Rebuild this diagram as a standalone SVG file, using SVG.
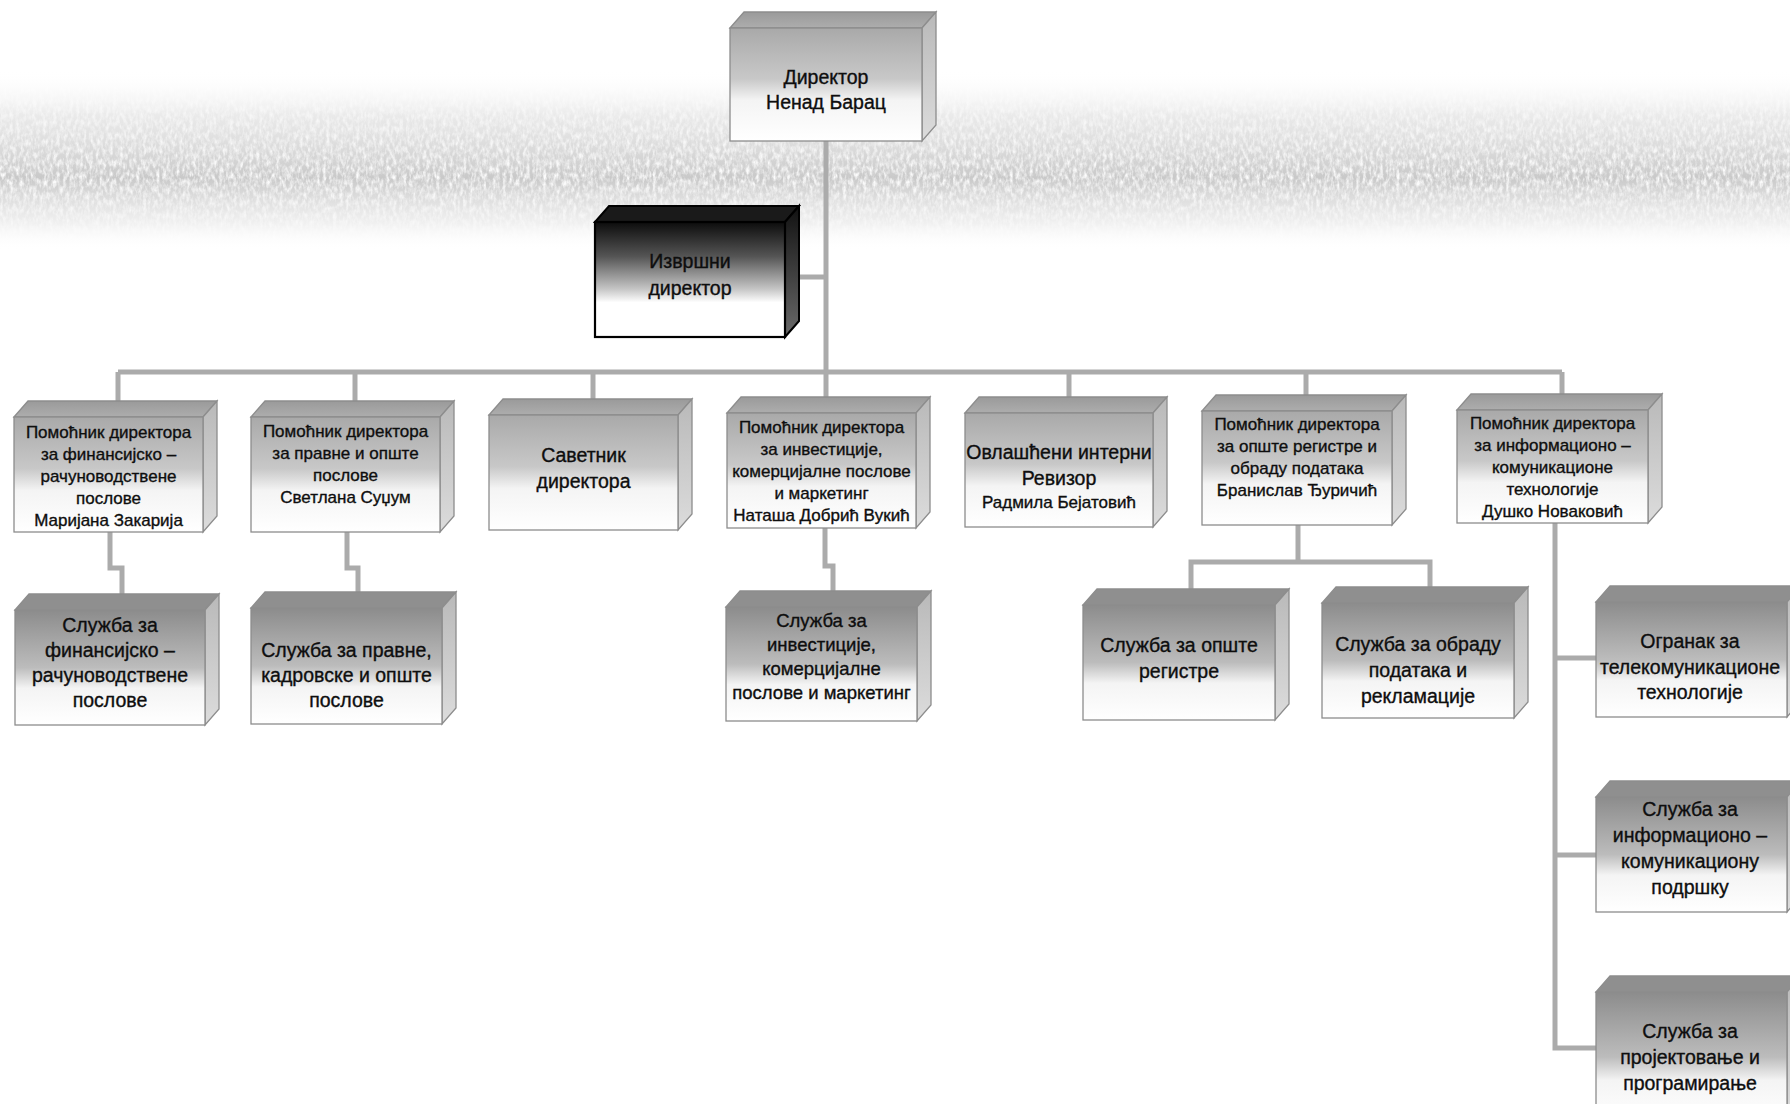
<svg xmlns="http://www.w3.org/2000/svg" width="1790" height="1104" viewBox="0 0 1790 1104">
<style>
.t{font-family:"Liberation Sans",Arial,sans-serif;fill:#0e0e0e;stroke:#0e0e0e;stroke-width:0.35;text-anchor:middle}
.s{font-size:17px}
.l{font-size:19.5px}
.m{font-size:18.5px}
.front{fill:url(#gFront);stroke:#8d8d8d;stroke-width:1.3}
.front3{fill:url(#gFront3);stroke:#8d8d8d;stroke-width:1.3}
.top{fill:url(#gTop);stroke:#8d8d8d;stroke-width:1.3}
.top3{fill:#8f8f8f;stroke:#8d8d8d;stroke-width:1.3}
.side{fill:url(#gSide);stroke:#8d8d8d;stroke-width:1.3}
.conn{fill:none;stroke:#ababab;stroke-width:5;stroke-linejoin:miter}
</style>
<defs>
<linearGradient id="gFront" x1="0" y1="0" x2="0" y2="1">
<stop offset="0" stop-color="#a9a9a9"/>
<stop offset="0.45" stop-color="#c8c8c8"/>
<stop offset="0.64" stop-color="#f4f4f4"/>
<stop offset="1" stop-color="#ffffff"/>
</linearGradient>
<linearGradient id="gFront3" x1="0" y1="0" x2="0" y2="1">
<stop offset="0" stop-color="#8c8c8c"/>
<stop offset="0.5" stop-color="#bcbcbc"/>
<stop offset="0.68" stop-color="#f4f4f4"/>
<stop offset="1" stop-color="#ffffff"/>
</linearGradient>
<linearGradient id="gTop" x1="0" y1="0" x2="0" y2="1">
<stop offset="0" stop-color="#9a9a9a"/>
<stop offset="1" stop-color="#adadad"/>
</linearGradient>
<linearGradient id="gSide" x1="0" y1="0" x2="0" y2="1">
<stop offset="0" stop-color="#b9b9b9"/>
<stop offset="1" stop-color="#dcdcdc"/>
</linearGradient>
<linearGradient id="gExec" x1="0" y1="0" x2="0" y2="1">
<stop offset="0" stop-color="#0c0c0c"/>
<stop offset="0.3" stop-color="#555555"/>
<stop offset="0.58" stop-color="#c4c4c4"/>
<stop offset="0.7" stop-color="#ffffff"/>
<stop offset="1" stop-color="#ffffff"/>
</linearGradient>
<linearGradient id="gExecSide" x1="0" y1="0" x2="0" y2="1">
<stop offset="0" stop-color="#111111"/>
<stop offset="1" stop-color="#6a6a6a"/>
</linearGradient>
<linearGradient id="gBand" x1="0" y1="0" x2="0" y2="1">
<stop offset="0" stop-color="#ffffff" stop-opacity="0"/>
<stop offset="0.25" stop-color="#dcdcdc" stop-opacity="0.6"/>
<stop offset="0.6" stop-color="#c6c6c6" stop-opacity="0.95"/>
<stop offset="0.85" stop-color="#e0e0e0" stop-opacity="0.5"/>
<stop offset="1" stop-color="#ffffff" stop-opacity="0"/>
</linearGradient>
<filter id="noise" x="0" y="0" width="100%" height="100%">
<feTurbulence type="fractalNoise" baseFrequency="0.3 0.15" numOctaves="3" seed="4" result="n"/>
<feColorMatrix in="n" type="matrix" values="0 0 0 0 1  0 0 0 0 1  0 0 0 0 1  0 0 0 2.2 -0.8"/>
<feComposite in2="SourceGraphic" operator="in"/>
</filter>
</defs>

<rect x="0" y="0" width="1790" height="1104" fill="#ffffff"/>
<g id="band">
<rect x="0" y="70" width="1790" height="180" fill="url(#gBand)"/>
<rect x="0" y="70" width="1790" height="180" fill="url(#gBand)" filter="url(#noise)"/>
</g>

<g id="connectors">
<path class="conn" d="M826 141 V400"/>
<path class="conn" d="M799 277 H826"/>
<path class="conn" d="M118 372 H1562"/>
<path class="conn" d="M118 372 V405"/>
<path class="conn" d="M355 372 V405"/>
<path class="conn" d="M593 372 V403"/>
<path class="conn" d="M1069 372 V401"/>
<path class="conn" d="M1306 372 V399"/>
<path class="conn" d="M1562 372 V398"/>
<path class="conn" d="M110 530 V568 H122 V598"/>
<path class="conn" d="M347 530 V568 H358 V596"/>
<path class="conn" d="M825 526 V566 H833 V595"/>
<path class="conn" d="M1298 523 V562"/>
<path class="conn" d="M1191 592 V562 H1430 V590"/>
<path class="conn" d="M1555 521 V1048 H1600"/>
<path class="conn" d="M1555 658 H1600"/>
<path class="conn" d="M1555 855 H1600"/>
</g>

<g id="n-director">
<polygon class="top" points="730,28 744,12 936,12 922,28"/>
<polygon class="side" points="922,28 936,12 936,125 922,141"/>
<rect class="front" x="730" y="28" width="192" height="113"/>
<text class="t l" x="826" y="84">Директор</text>
<text class="t l" x="826" y="109">Ненад Барац</text>
</g>

<g id="n-exec">
<polygon points="595,222 609,206 799,206 785,222" fill="#1a1a1a" stroke="#000" stroke-width="2"/>
<polygon points="785,222 799,206 799,321 785,337" fill="url(#gExecSide)" stroke="#000" stroke-width="2"/>
<rect x="595" y="222" width="190" height="115" fill="url(#gExec)" stroke="#000" stroke-width="2.2"/>
<text class="t l" x="690" y="268">Извршни</text>
<text class="t l" x="690" y="295">директор</text>
</g>

<g id="n-b1">
<polygon class="top" points="14,417 28,401 217,401 203,417"/>
<polygon class="side" points="203,417 217,401 217,516 203,532"/>
<rect class="front" x="14" y="417" width="189" height="115"/>
<text class="t s" x="108.5" y="438">Помоћник директора</text>
<text class="t s" x="108.5" y="460">за финансијско –</text>
<text class="t s" x="108.5" y="482">рачуноводствене</text>
<text class="t s" x="108.5" y="504">послове</text>
<text class="t s" x="108.5" y="526">Маријана Закарија</text>
</g>

<g id="n-b2">
<polygon class="top" points="251,417 265,401 454,401 440,417"/>
<polygon class="side" points="440,417 454,401 454,516 440,532"/>
<rect class="front" x="251" y="417" width="189" height="115"/>
<text class="t s" x="345.5" y="437">Помоћник директора</text>
<text class="t s" x="345.5" y="459">за правне и опште</text>
<text class="t s" x="345.5" y="481">послове</text>
<text class="t s" x="345.5" y="503">Светлана Суџум</text>
</g>

<g id="n-b3">
<polygon class="top" points="489,415 503,399 692,399 678,415"/>
<polygon class="side" points="678,415 692,399 692,514 678,530"/>
<rect class="front" x="489" y="415" width="189" height="115"/>
<text class="t l" x="583.5" y="462">Саветник</text>
<text class="t l" x="583.5" y="488">директора</text>
</g>

<g id="n-b4">
<polygon class="top" points="727,413 741,397 930,397 916,413"/>
<polygon class="side" points="916,413 930,397 930,512 916,528"/>
<rect class="front" x="727" y="413" width="189" height="115"/>
<text class="t s" x="821.5" y="433">Помоћник директора</text>
<text class="t s" x="821.5" y="455">за инвестиције,</text>
<text class="t s" x="821.5" y="477">комерцијалне послове</text>
<text class="t s" x="821.5" y="499">и маркетинг</text>
<text class="t s" x="821.5" y="521">Наташа Добрић Вукић</text>
</g>

<g id="n-b5">
<polygon class="top" points="965,413 979,397 1167,397 1153,413"/>
<polygon class="side" points="1153,413 1167,397 1167,511 1153,527"/>
<rect class="front" x="965" y="413" width="188" height="114"/>
<text class="t l" x="1059" y="459">Овлашћени интерни</text>
<text class="t l" x="1059" y="485">Ревизор</text>
<text class="t s" x="1059" y="508">Радмила Бејатовић</text>
</g>

<g id="n-b6">
<polygon class="top" points="1202,411 1216,395 1406,395 1392,411"/>
<polygon class="side" points="1392,411 1406,395 1406,509 1392,525"/>
<rect class="front" x="1202" y="411" width="190" height="114"/>
<text class="t s" x="1297" y="430">Помоћник директора</text>
<text class="t s" x="1297" y="452">за опште регистре и</text>
<text class="t s" x="1297" y="474">обраду података</text>
<text class="t s" x="1297" y="496">Бранислав Ђуричић</text>
</g>

<g id="n-b7">
<polygon class="top" points="1457,410 1471,394 1662,394 1648,410"/>
<polygon class="side" points="1648,410 1662,394 1662,507 1648,523"/>
<rect class="front" x="1457" y="410" width="191" height="113"/>
<text class="t s" x="1552.5" y="429">Помоћник директора</text>
<text class="t s" x="1552.5" y="451">за информационо –</text>
<text class="t s" x="1552.5" y="473">комуникационе</text>
<text class="t s" x="1552.5" y="495">технологије</text>
<text class="t s" x="1552.5" y="517">Душко Новаковић</text>
</g>

<g id="n-a">
<polygon class="top3" points="15,610 29,594 219,594 205,610"/>
<polygon class="side" points="205,610 219,594 219,709 205,725"/>
<rect class="front3" x="15" y="610" width="190" height="115"/>
<text class="t l" x="110" y="632">Служба за</text>
<text class="t l" x="110" y="657">финансијско –</text>
<text class="t l" x="110" y="682">рачуноводствене</text>
<text class="t l" x="110" y="707">послове</text>
</g>

<g id="n-b">
<polygon class="top3" points="251,608 265,592 456,592 442,608"/>
<polygon class="side" points="442,608 456,592 456,708 442,724"/>
<rect class="front3" x="251" y="608" width="191" height="116"/>
<text class="t l" x="346.5" y="657">Служба за правне,</text>
<text class="t l" x="346.5" y="682">кадровске и опште</text>
<text class="t l" x="346.5" y="707">послове</text>
</g>

<g id="n-c">
<polygon class="top3" points="726,607 740,591 931,591 917,607"/>
<polygon class="side" points="917,607 931,591 931,705 917,721"/>
<rect class="front3" x="726" y="607" width="191" height="114"/>
<text class="t m" x="821.5" y="627">Служба за</text>
<text class="t m" x="821.5" y="651">инвестиције,</text>
<text class="t m" x="821.5" y="675">комерцијалне</text>
<text class="t m" x="821.5" y="699">послове и маркетинг</text>
</g>

<g id="n-d">
<polygon class="top3" points="1083,605 1097,589 1289,589 1275,605"/>
<polygon class="side" points="1275,605 1289,589 1289,704 1275,720"/>
<rect class="front3" x="1083" y="605" width="192" height="115"/>
<text class="t l" x="1179" y="652">Служба за опште</text>
<text class="t l" x="1179" y="678">регистре</text>
</g>

<g id="n-e">
<polygon class="top3" points="1322,603 1336,587 1528,587 1514,603"/>
<polygon class="side" points="1514,603 1528,587 1528,702 1514,718"/>
<rect class="front3" x="1322" y="603" width="192" height="115"/>
<text class="t l" x="1418" y="651">Служба за обраду</text>
<text class="t l" x="1418" y="677">података и</text>
<text class="t l" x="1418" y="703">рекламације</text>
</g>

<g id="n-f">
<polygon class="top3" points="1596,602 1610,586 1801,586 1787,602"/>
<polygon class="side" points="1787,602 1801,586 1801,701 1787,717"/>
<rect class="front3" x="1596" y="602" width="191" height="115"/>
<text class="t l" x="1690" y="648">Огранак за</text>
<text class="t l" x="1690" y="674">телекомуникационе</text>
<text class="t l" x="1690" y="699">технологије</text>
</g>

<g id="n-g">
<polygon class="top3" points="1596,797 1610,781 1801,781 1787,797"/>
<polygon class="side" points="1787,797 1801,781 1801,896 1787,912"/>
<rect class="front3" x="1596" y="797" width="191" height="115"/>
<text class="t l" x="1690" y="816">Служба за</text>
<text class="t l" x="1690" y="842">информационо –</text>
<text class="t l" x="1690" y="868">комуникациону</text>
<text class="t l" x="1690" y="894">подршку</text>
</g>

<g id="n-h">
<polygon class="top3" points="1596,992 1610,976 1801,976 1787,992"/>
<polygon class="side" points="1787,992 1801,976 1801,1106 1787,1122"/>
<rect class="front3" x="1596" y="992" width="191" height="130"/>
<text class="t l" x="1690" y="1038">Служба за</text>
<text class="t l" x="1690" y="1064">пројектовање и</text>
<text class="t l" x="1690" y="1090">програмирање</text>
</g>
</svg>
